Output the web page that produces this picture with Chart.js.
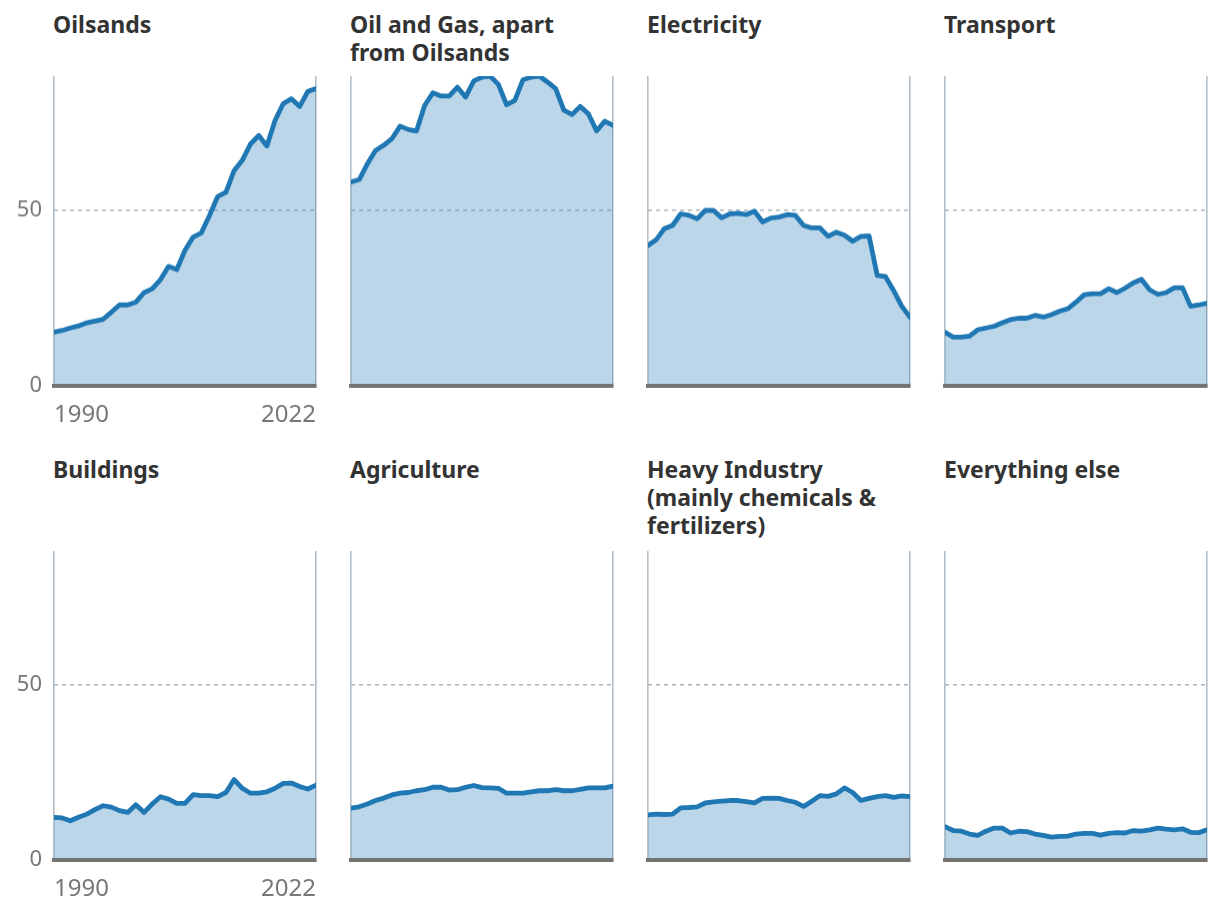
<!DOCTYPE html>
<html>
<head>
<meta charset="utf-8">
<script src="https://cdn.jsdelivr.net/npm/chart.js@4.4.0/dist/chart.umd.min.js"></script>
<style>
  body { margin: 0; background: #fff; font-family: "Noto Sans", sans-serif; }
  #page { position: relative; width: 1220px; height: 910px; overflow: hidden; }
  .title { position: absolute; font-size: 23px; font-weight: 700; line-height: 28px; color: #333; white-space: pre-line; }
  .box { position: absolute; }
</style>
</head>
<body>
<div id="page"></div>
<script>
const years = [1990, 1991, 1992, 1993, 1994, 1995, 1996, 1997, 1998, 1999, 2000, 2001, 2002, 2003, 2004, 2005, 2006,
  2007, 2008, 2009, 2010, 2011, 2012, 2013, 2014, 2015, 2016, 2017, 2018, 2019, 2020, 2021, 2022];

const oilsands = [15.2, 15.7, 16.4, 17.0, 17.9, 18.4, 18.9, 20.9, 23.0, 23.0, 23.8, 26.5, 27.6, 30.2, 34.0, 33.1, 38.6,
  42.4, 43.6, 48.6, 54.0, 55.2, 61.4, 64.3, 69.0, 71.4, 68.4, 75.7, 80.5, 81.9, 79.7, 84.0, 84.8];
const oilGas = [58.1, 58.8, 63.3, 67.1, 68.6, 70.5, 74.1, 73.1, 72.7, 80.0, 83.6, 82.7, 82.7, 85.2, 82.4, 87.0, 88.1,
  88.4, 86.0, 80.2, 81.4, 87.3, 88.1, 88.4, 86.7, 84.8, 78.6, 77.4, 79.7, 77.6, 72.7, 75.5, 74.3];
const electricity = [40.0, 41.6, 44.8, 45.7, 49.0, 48.6, 47.6, 50.0, 50.0, 47.9, 49.0, 49.2, 48.8, 49.8, 46.7, 47.8, 48.1,
  48.8, 48.6, 45.7, 45.0, 45.0, 42.6, 43.8, 42.9, 41.2, 42.6, 42.7, 31.4, 31.1, 27.1, 22.6, 19.5];
const transport = [15.2, 13.8, 13.8, 14.1, 15.9, 16.4, 16.9, 17.9, 18.8, 19.2, 19.2, 20.0, 19.5, 20.2, 21.2, 21.9, 23.8,
  25.9, 26.2, 26.2, 27.6, 26.5, 27.8, 29.3, 30.3, 27.3, 26.0, 26.5, 27.9, 27.9, 22.6, 23.0, 23.5];
const buildings = [12.1, 11.9, 11.1, 12.1, 13.0, 14.3, 15.4, 15.0, 14.0, 13.5, 15.7, 13.5, 15.9, 18.0, 17.3, 16.1, 16.1,
  18.6, 18.3, 18.3, 18.0, 19.2, 22.9, 20.4, 19.0, 19.0, 19.4, 20.4, 21.8, 21.9, 20.9, 20.2, 21.3];
const agriculture = [14.7, 15.1, 15.9, 16.9, 17.6, 18.5, 19.0, 19.2, 19.7, 20.0, 20.7, 20.7, 19.9, 20.0, 20.7, 21.2, 20.6,
  20.5, 20.4, 19.0, 19.0, 19.0, 19.4, 19.7, 19.7, 20.0, 19.7, 19.7, 20.1, 20.5, 20.5, 20.5, 21.0];
const heavyIndustry = [12.8, 13.0, 12.9, 13.0, 14.8, 14.9, 15.1, 16.2, 16.5, 16.7, 16.9, 16.9, 16.6, 16.2, 17.5, 17.6, 17.5,
  16.9, 16.4, 15.2, 16.7, 18.3, 18.1, 18.8, 20.5, 19.2, 16.9, 17.5, 18.0, 18.3, 17.8, 18.2, 18.0];
const everythingElse = [9.4, 8.3, 8.1, 7.3, 6.9, 8.1, 9.0, 9.0, 7.6, 8.1, 8.0, 7.3, 6.9, 6.4, 6.6, 6.7, 7.3,
  7.5, 7.5, 7.0, 7.5, 7.7, 7.6, 8.3, 8.1, 8.5, 9.0, 8.7, 8.5, 8.8, 7.8, 7.7, 8.5];

const titles = ["Oilsands", "Oil and Gas, apart\nfrom Oilsands", "Electricity", "Transport",
  "Buildings", "Agriculture", "Heavy Industry\n(mainly chemicals &\nfertilizers)", "Everything else"];
const series = [oilsands, oilGas, electricity, transport, buildings, agriculture, heavyIndustry, everythingElse];
const yTicks = [0, 50];
const xTicks = [1990, 2022];
const yMax = 88.4;

Chart.defaults.font.family = '"Noto Sans", sans-serif';
Chart.defaults.animation = false;

const page = document.getElementById("page");
const plotW = 262, plotH = 308.5, padTop = 6, padRight = 5, xAxisH = 48;
const rowTop = [76, 550.5];
const titleTop = [10, 455];

series.forEach((values, i) => {
  const col = i % 4, row = Math.floor(i / 4);
  const first = col === 0;
  const plotLeft = 54 + col * 297;
  const yw = first ? 54 : 30;

  const t = document.createElement("div");
  t.className = "title";
  t.textContent = titles[i];
  t.style.left = (plotLeft - 1) + "px";
  t.style.top = titleTop[row] + "px";
  page.appendChild(t);

  const box = document.createElement("div");
  box.className = "box";
  box.style.left = (plotLeft - yw) + "px";
  box.style.top = (rowTop[row] - padTop) + "px";
  box.style.width = (yw + plotW + padRight) + "px";
  box.style.height = (padTop + plotH + xAxisH) + "px";
  const cv = document.createElement("canvas");
  box.appendChild(cv);
  page.appendChild(box);

  new Chart(cv, {
    type: "line",
    data: {
      datasets: [{
        data: years.map((yr, k) => ({ x: yr, y: values[k] })),
        borderColor: "#1f77b4",
        backgroundColor: "rgba(31,119,180,0.3)",
        borderWidth: 4.8,
        borderJoinStyle: "round",
        borderCapStyle: "round",
        pointRadius: 0,
        fill: "origin",
        tension: 0
      }]
    },
    options: {
      responsive: true,
      maintainAspectRatio: false,
      layout: { padding: { top: padTop, right: padRight, left: 0, bottom: 0 } },
      plugins: { legend: { display: false }, tooltip: { enabled: false } },
      scales: {
        x: {
          type: "linear",
          min: 1990,
          max: 2022,
          afterBuildTicks: axis => { axis.ticks = xTicks.map(v => ({ value: v })); },
          afterFit: axis => {
            axis.height = xAxisH;
            axis.paddingLeft = 0;
            axis.paddingRight = 0;
          },
          ticks: {
            display: first,
            align: "inner",
            padding: 15,
            color: "#777",
            font: { size: 24 },
            callback: v => String(v)
          },
          grid: { color: "#b3bec6", lineWidth: 1.6, drawTicks: false },
          border: { display: true, color: "#737373", width: 4, z: 1 }
        },
        y: {
          min: 0,
          max: yMax,
          afterBuildTicks: axis => { axis.ticks = yTicks.map(v => ({ value: v })); },
          afterFit: axis => {
            axis.width = yw;
            axis.paddingTop = 0;
            axis.paddingBottom = 0;
          },
          ticks: {
            display: first,
            padding: 12,
            color: "#777",
            font: { size: 22 },
            callback: v => String(v)
          },
          grid: {
            color: c => (c.tick && c.tick.value === 50 ? "#aab5bd" : "rgba(0,0,0,0)"),
            lineWidth: 1.5,
            drawTicks: false
          },
          border: { display: false, dash: [4, 4] }
        }
      }
    }
  });
});
</script>
</body>
</html>
